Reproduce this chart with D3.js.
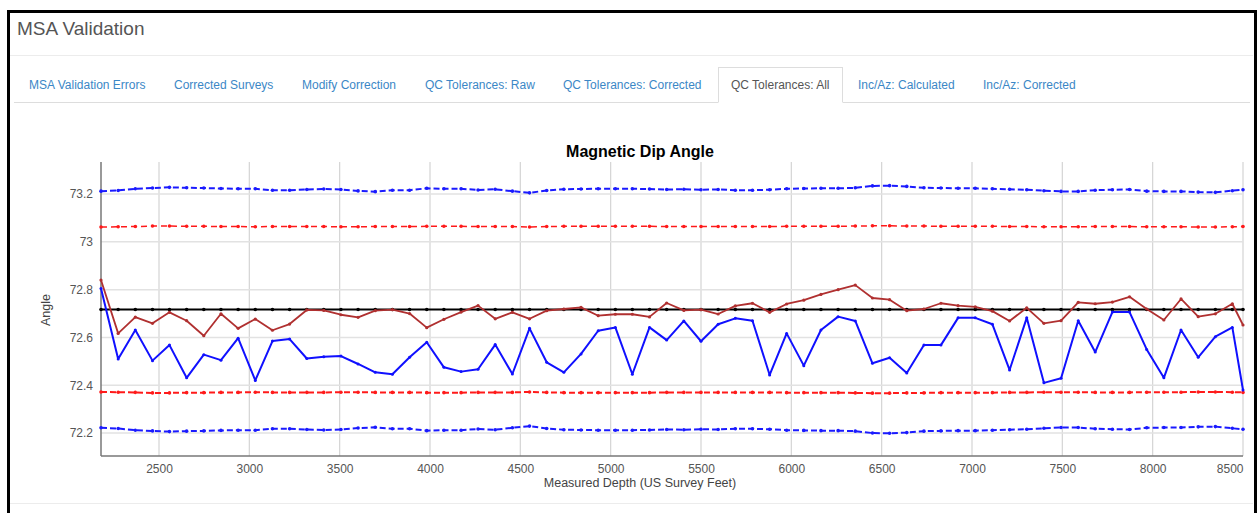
<!DOCTYPE html>
<html>
<head>
<meta charset="utf-8">
<script src="https://cdn.jsdelivr.net/npm/d3@7"></script>
<style>
  html, body { margin: 0; padding: 0; background: #fff; }
  body { width: 1259px; height: 513px; position: relative; overflow: hidden;
         font-family: "Liberation Sans", Arial, sans-serif; }
  .frame { position: absolute; left: 7px; top: 10px; width: 1244px; height: 520px;
           border: 3px solid #000; border-bottom: none; }
  .title { position: absolute; left: 17px; top: 18px; font-size: 19px; color: #555; }
  .sep { position: absolute; height: 1px; background: #ececec; }
  .tabs { position: absolute; left: 14px; top: 68px; width: 1236px; height: 34px;
          border-bottom: 1px solid #ddd; }
  .tab { position: absolute; top: 0; height: 34px; line-height: 34px; font-size: 12px;
         color: #3b87c6; white-space: nowrap; }
  .tab.active { color: #555; border: 1px solid #ddd; border-bottom: 1px solid #fff;
                background: #fff; height: 34px; top: -1px; line-height: 35px; }
  svg { position: absolute; left: 0; top: 0; }
</style>
</head>
<body>
<div class="frame"></div>
<div class="title">MSA Validation</div>
<div class="sep" style="left:10px; top:55px; width:1243px;"></div>
<div class="tabs" id="tabs"></div>
<div class="sep" style="left:10px; top:503px; width:1243px;"></div>
<div id="chart"></div>
<script>
// tabs across the top
const tabNames = ["MSA Validation Errors", "Corrected Surveys", "Modify Correction",
  "QC Tolerances: Raw", "QC Tolerances: Corrected", "QC Tolerances: All",
  "Inc/Az: Calculated", "Inc/Az: Corrected"];
const activeTab = "QC Tolerances: All";

// survey depths (US survey feet)
const depths = [
  2179, 2274, 2369, 2464, 2558, 2653, 2748, 2843, 2938, 3033,
  3128, 3223, 3318, 3412, 3507, 3602, 3697, 3792, 3887, 3982,
  4077, 4172, 4266, 4361, 4456, 4551, 4646, 4741, 4836, 4931,
  5026, 5120, 5215, 5310, 5405, 5500, 5595, 5690, 5785, 5880,
  5974, 6069, 6164, 6259, 6354, 6449, 6544, 6639, 6734, 6828,
  6923, 7018, 7113, 7208, 7303, 7398, 7493, 7588, 7682, 7777,
  7872, 7967, 8062, 8157, 8252, 8347, 8441, 8500];

// corrected dip (dark red)
const dipCorrected = [
  72.84, 72.617, 72.685, 72.659, 72.705, 72.67, 72.607, 72.699, 72.638, 72.677,
  72.63, 72.656, 72.715, 72.713, 72.695, 72.684, 72.712, 72.716, 72.70, 72.641,
  72.676, 72.706, 72.733, 72.678, 72.705, 72.678, 72.712, 72.719, 72.726, 72.691,
  72.697, 72.697, 72.686, 72.744, 72.713, 72.716, 72.698, 72.732, 72.743, 72.705,
  72.74, 72.756, 72.78, 72.80, 72.819, 72.765, 72.758, 72.712, 72.719, 72.743,
  72.733, 72.728, 72.71, 72.669, 72.724, 72.659, 72.67, 72.747, 72.741, 72.748,
  72.77, 72.719, 72.673, 72.761, 72.687, 72.699, 72.741, 72.652];

// raw dip (blue)
const dipRaw = [
  72.805, 72.51, 72.631, 72.503, 72.568, 72.431, 72.528, 72.505, 72.597, 72.42,
  72.585, 72.593, 72.512, 72.519, 72.522, 72.489, 72.454, 72.446, 72.517, 72.58,
  72.475, 72.457, 72.467, 72.57, 72.447, 72.638, 72.496, 72.454, 72.531, 72.628,
  72.642, 72.446, 72.642, 72.589, 72.669, 72.584, 72.655, 72.68, 72.67, 72.443,
  72.617, 72.482, 72.631, 72.687, 72.669, 72.492, 72.515, 72.451, 72.568, 72.568,
  72.682, 72.682, 72.655, 72.464, 72.682, 72.41, 72.429, 72.67, 72.539, 72.706,
  72.706, 72.55, 72.431, 72.631, 72.517, 72.603, 72.642, 72.38];

// reference dip (black)
const dipReference = 72.717;

// tolerance bands
const blueUpper = [
  73.212, 73.215, 73.222, 73.225, 73.228, 73.226, 73.225, 73.223, 73.222, 73.222,
  73.216, 73.216, 73.219, 73.221, 73.219, 73.213, 73.210, 73.216, 73.216, 73.224,
  73.222, 73.222, 73.217, 73.220, 73.212, 73.205, 73.215, 73.220, 73.221, 73.222,
  73.222, 73.222, 73.221, 73.219, 73.220, 73.218, 73.219, 73.216, 73.216, 73.218,
  73.222, 73.223, 73.224, 73.224, 73.226, 73.234, 73.235, 73.232, 73.226, 73.225,
  73.224, 73.224, 73.222, 73.220, 73.218, 73.214, 73.211, 73.211, 73.216, 73.218,
  73.219, 73.212, 73.211, 73.211, 73.208, 73.207, 73.214, 73.218];
const blueLower = [
  72.222, 72.219, 72.212, 72.209, 72.206, 72.208, 72.209, 72.211, 72.212, 72.212,
  72.218, 72.218, 72.215, 72.213, 72.215, 72.221, 72.224, 72.218, 72.218, 72.210,
  72.212, 72.212, 72.217, 72.214, 72.222, 72.229, 72.219, 72.214, 72.213, 72.212,
  72.212, 72.212, 72.213, 72.215, 72.214, 72.216, 72.215, 72.218, 72.218, 72.216,
  72.212, 72.211, 72.210, 72.210, 72.208, 72.200, 72.199, 72.202, 72.208, 72.209,
  72.210, 72.210, 72.212, 72.214, 72.216, 72.220, 72.223, 72.223, 72.218, 72.216,
  72.215, 72.222, 72.223, 72.223, 72.226, 72.227, 72.220, 72.216];
const redUpper = [
  73.062, 73.063, 73.064, 73.066, 73.066, 73.065, 73.065, 73.064, 73.064, 73.063,
  73.064, 73.064, 73.064, 73.064, 73.063, 73.063, 73.064, 73.064, 73.064, 73.065,
  73.065, 73.065, 73.064, 73.064, 73.064, 73.062, 73.064, 73.065, 73.065, 73.065,
  73.065, 73.065, 73.065, 73.064, 73.064, 73.064, 73.064, 73.064, 73.064, 73.064,
  73.065, 73.065, 73.065, 73.065, 73.066, 73.067, 73.067, 73.066, 73.066, 73.065,
  73.065, 73.065, 73.065, 73.064, 73.064, 73.063, 73.063, 73.063, 73.064, 73.064,
  73.064, 73.063, 73.063, 73.063, 73.062, 73.062, 73.063, 73.064];
const redLower = [
  72.372, 72.371, 72.370, 72.368, 72.368, 72.369, 72.369, 72.370, 72.370, 72.371,
  72.370, 72.370, 72.370, 72.370, 72.371, 72.371, 72.370, 72.370, 72.370, 72.369,
  72.369, 72.369, 72.370, 72.370, 72.370, 72.372, 72.370, 72.369, 72.369, 72.369,
  72.369, 72.369, 72.369, 72.370, 72.370, 72.370, 72.370, 72.370, 72.370, 72.370,
  72.369, 72.369, 72.369, 72.369, 72.368, 72.367, 72.367, 72.368, 72.368, 72.369,
  72.369, 72.369, 72.369, 72.370, 72.370, 72.371, 72.371, 72.371, 72.370, 72.370,
  72.370, 72.371, 72.371, 72.371, 72.372, 72.372, 72.371, 72.370];

const xTicks = [2500, 3000, 3500, 4000, 4500, 5000, 5500, 6000, 6500, 7000, 7500, 8000, 8500];
const yTicks = [72.2, 72.4, 72.6, 72.8, 73, 73.2];

// tabs
const tabX = [29, 174, 302, 425, 563, 718, 858, 983];
d3.select("#tabs").selectAll("div.tab")
  .data(tabNames)
  .enter()
  .append("div")
  .attr("class", d => d === activeTab ? "tab active" : "tab")
  .style("left", (d, i) => (tabX[i] - 14) + "px")
  .style("padding", d => d === activeTab ? "0 12px" : "0")
  .text(d => d);

const W = 1259, H = 513;
const plot = { left: 101, right: 1243, top: 162, bottom: 456 };

const svg = d3.select("#chart").append("svg").attr("width", W).attr("height", H);

const x = d3.scaleLinear().domain([2179, 8500]).range([plot.left, plot.right]);
const y = d3.scaleLinear().domain([72.104, 73.334]).range([plot.bottom, plot.top]);

// grid
svg.append("g")
  .selectAll("line.v")
  .data(xTicks)
  .enter()
  .append("line")
  .attr("x1", d => x(d)).attr("x2", d => x(d))
  .attr("y1", plot.top).attr("y2", plot.bottom)
  .attr("stroke", "#d4d4d4").attr("stroke-width", 1.2);

svg.append("g")
  .selectAll("line.h")
  .data(yTicks)
  .enter()
  .append("line")
  .attr("x1", plot.left).attr("x2", plot.right)
  .attr("y1", d => y(d)).attr("y2", d => y(d))
  .attr("stroke", "#e2e2e2").attr("stroke-width", 1.5);

// axes
const yAxis = svg.append("g")
  .attr("transform", `translate(${plot.left},0)`)
  .call(d3.axisLeft(y).tickValues(yTicks).tickSize(0).tickPadding(8).tickFormat(d => String(+d.toFixed(1))));
yAxis.select(".domain").remove();
yAxis.selectAll("text").attr("font-size", 12).attr("fill", "#555")
  .attr("font-family", "Liberation Sans, Arial, sans-serif");

const xAxis = svg.append("g")
  .attr("transform", `translate(0,${plot.bottom})`)
  .call(d3.axisBottom(x).tickValues(xTicks).tickSize(0).tickPadding(8).tickFormat(d3.format("d")));
xAxis.select(".domain").remove();
xAxis.selectAll("text").attr("font-size", 12).attr("fill", "#555")
  .attr("font-family", "Liberation Sans, Arial, sans-serif")
  .attr("text-anchor", d => d === 8500 ? "end" : "middle");

svg.append("line")
  .attr("x1", plot.left).attr("x2", plot.left)
  .attr("y1", plot.top).attr("y2", plot.bottom)
  .attr("stroke", "#777").attr("stroke-width", 1.5);
svg.append("line")
  .attr("x1", plot.left).attr("x2", plot.right)
  .attr("y1", plot.bottom).attr("y2", plot.bottom)
  .attr("stroke", "#777").attr("stroke-width", 1.5);

// titles
svg.append("text")
  .attr("x", 640).attr("y", 157)
  .attr("text-anchor", "middle")
  .attr("font-size", 16).attr("font-weight", "bold")
  .attr("font-family", "Liberation Sans, Arial, sans-serif")
  .text("Magnetic Dip Angle");

svg.append("text")
  .attr("x", 640).attr("y", 487)
  .attr("text-anchor", "middle")
  .attr("font-size", 12.5).attr("fill", "#444")
  .attr("font-family", "Liberation Sans, Arial, sans-serif")
  .text("Measured Depth (US Survey Feet)");

svg.append("text")
  .attr("transform", "translate(50,310) rotate(-90)")
  .attr("text-anchor", "middle")
  .attr("font-size", 12.5).attr("fill", "#444")
  .attr("font-family", "Liberation Sans, Arial, sans-serif")
  .text("Angle");

// series
const series = [
  { values: blueUpper, color: "#1a1aff", width: 2, dash: "6,3", r: 1.8 },
  { values: blueLower, color: "#1a1aff", width: 2, dash: "6,3", r: 1.8 },
  { values: redUpper, color: "#ff1a1a", width: 1.5, dash: "6,4", r: 1.8 },
  { values: redLower, color: "#ff1a1a", width: 2, dash: "6,3", r: 1.8 },
  { values: depths.map(() => dipReference), color: "#000", width: 2, dash: null, r: 1.8 },
  { values: dipCorrected, color: "#b03030", width: 1.8, dash: null, r: 1.6 },
  { values: dipRaw, color: "#1010ff", width: 2, dash: null, r: 1.5 }
];

const line = d3.line().x(d => x(d[0])).y(d => y(d[1]));

series.forEach(s => {
  const pts = depths.map((d, i) => [d, s.values[i]]);
  svg.append("path")
    .datum(pts)
    .attr("d", line)
    .attr("fill", "none")
    .attr("stroke", s.color)
    .attr("stroke-width", s.width)
    .attr("stroke-dasharray", s.dash)
    .attr("stroke-linejoin", "round");
  svg.append("g")
    .selectAll("circle")
    .data(pts)
    .enter()
    .append("circle")
    .attr("cx", d => x(d[0]))
    .attr("cy", d => y(d[1]))
    .attr("r", s.r)
    .attr("fill", s.color);
});
</script>
</body>
</html>
